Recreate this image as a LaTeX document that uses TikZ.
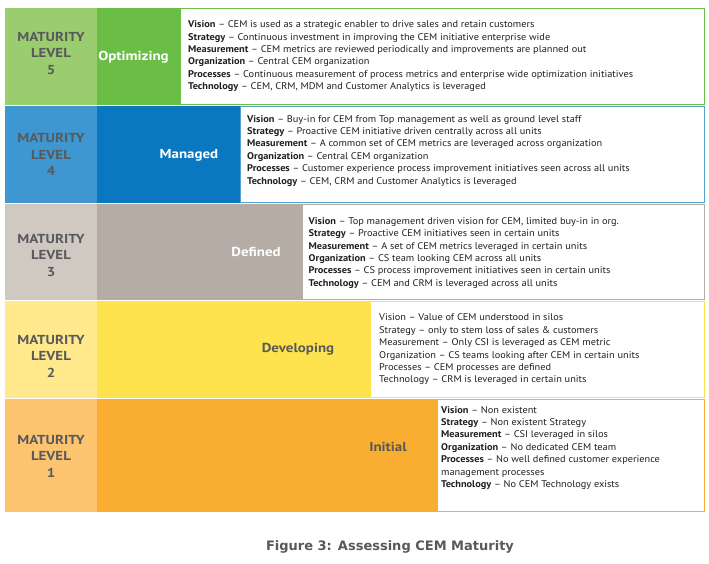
\documentclass[tikz,border=0pt]{standalone}
\usepackage{fontspec}
\setmainfont{PT Sans}[FakeStretch=1.15]
\newfontfamily\bodyfont{PT Sans}[FakeStretch=1.065,Ligatures=TeX]
\newfontfamily\capfont{DejaVu Sans}
\definecolor{gA}{HTML}{9ACD6E}\definecolor{gB}{HTML}{6BBE45}
\definecolor{bA}{HTML}{3E97D1}\definecolor{bB}{HTML}{0A78C1}
\definecolor{tA}{HTML}{D0C9C2}\definecolor{tB}{HTML}{B5ADA5}
\definecolor{yA}{HTML}{FFE98C}\definecolor{yB}{HTML}{FFE34E}
\definecolor{oA}{HTML}{FCC46E}\definecolor{oB}{HTML}{F9AD31}
\definecolor{lbl}{HTML}{58595B}
\definecolor{ink}{HTML}{231F20}
\begin{document}
\begin{tikzpicture}[x=1pt,y=-1pt,
  body/.style={anchor=north west,inner sep=0pt,align=left,text=ink,font=\bodyfont\fontsize{9.7}{12.4}\selectfont},
  lvl/.style={inner sep=0pt,align=center,text=lbl,font=\bfseries\fontsize{13}{16.5}\selectfont},
  stagew/.style={inner sep=0pt,text=white,font=\bfseries\fontsize{13}{16.5}\selectfont},
  stageg/.style={inner sep=0pt,text=lbl,font=\bfseries\fontsize{13}{16.5}\selectfont},
  capt/.style={inner sep=0pt,text=lbl,font=\capfont\bfseries\fontsize{13}{15}\selectfont},
  boxline/.style={line width=1pt}]
\useasboundingbox[fill=white] (0,0) rectangle (709,564);
% Level 5
\draw[boxline,gB,fill=white] (180,8.5) rectangle (704.5,104.5);
\fill[gA] (5,8) rectangle (97,105);
\fill[gB] (97,8) rectangle (180,105);
% Level 4
\draw[boxline,bB!70,fill=white] (240,106.5) rectangle (704.5,202.5);
\fill[bA] (5,106) rectangle (97,203);
\fill[bB] (97,106) rectangle (240,203);
% Level 3
\draw[boxline,tB,fill=white] (302,204.5) rectangle (704.5,299.5);
\fill[tA] (5,204) rectangle (97,300);
\fill[tB] (97,204) rectangle (302,300);
% Level 2
\draw[boxline,yB,fill=white] (370,301.5) rectangle (704.5,397.5);
\fill[yA] (5,301) rectangle (97,398);
\fill[yB] (97,301) rectangle (370,398);
% Level 1
\draw[boxline,oB,fill=white] (437,399.5) rectangle (704.5,511.5);
\fill[oA] (5,399) rectangle (97,512);
\fill[oB] (97,399) rectangle (437,512);

\node[lvl] (m5) at (51,53) {MATURITY\\LEVEL\\5};
\node[lvl] (m4) at (51,154.5) {MATURITY\\LEVEL\\4};
\node[lvl] (m3) at (51,255) {MATURITY\\LEVEL\\3};
\node[lvl] (m2) at (51,356) {MATURITY\\LEVEL\\2};
\node[lvl] (m1) at (51,456) {MATURITY\\LEVEL\\1};

\node[stagew] (s5) at (133.5,57) {Optimizing};
\node[stagew] (s4) at (189,155) {Managed};
\node[stagew] (s3) at (256,252) {Defined};
\node[stageg] (s2) at (298,349) {Developing};
\node[stageg] (s1) at (388,447) {Initial};

\node[body] (t5) at (188,20.5) {\rule{0pt}{7pt}\textbf{Vision} -- CEM is used as a strategic enabler to drive sales and retain customers\\
\textbf{Strategy} -- Continuous investment in improving the CEM initiative enterprise wide\\
\textbf{Measurement} -- CEM metrics are reviewed periodically and improvements are planned out\\
\textbf{Organization} -- Central CEM organization\\
\textbf{Processes} -- Continuous measurement of process metrics and enterprise wide optimization initiatives\\
\textbf{Technology} -- CEM, CRM, MDM and Customer Analytics is leveraged};

\node[body] (t4) at (247,115) {\rule{0pt}{7pt}\textbf{Vision} -- Buy-in for CEM from Top management as well as ground level staff\\
\textbf{Strategy} -- Proactive CEM initiative driven centrally across all units\\
\textbf{Measurement} -- A common set of CEM metrics are leveraged across organization\\
\textbf{Organization} -- Central CEM organization\\
\textbf{Processes} -- Customer experience process improvement initiatives seen across all units\\
\textbf{Technology} -- CEM, CRM and Customer Analytics is leveraged};

\node[body] (t3) at (308.5,217) {\rule{0pt}{7pt}\textbf{Vision} -- Top management driven vision for CEM, limited buy-in in org.\\
\textbf{Strategy} -- Proactive CEM initiatives seen in certain units\\
\textbf{Measurement} -- A set of CEM metrics leveraged in certain units\\
\textbf{Organization} -- CS team looking CEM across all units\\
\textbf{Processes} -- CS process improvement initiatives seen in certain units\\
\textbf{Technology} -- CEM and CRM is leveraged across all units};

\node[body] (t2) at (379,313.7) {\rule{0pt}{7pt}Vision -- Value of CEM understood in silos\\
Strategy -- only to stem loss of sales \& customers\\
Measurement -- Only CSI is leveraged as CEM metric\\
Organization -- CS teams looking after CEM in certain units\\
Processes -- CEM processes are defined\\
Technology -- CRM is leveraged in certain units};

\node[body] (t1) at (441,405.8) {\rule{0pt}{7pt}\textbf{Vision} -- Non existent\\
\textbf{Strategy} -- Non existent Strategy\\
\textbf{Measurement} -- CSI leveraged in silos\\
\textbf{Organization} -- No dedicated CEM team\\
\textbf{Processes} -- No well defined customer experience\\
management processes\\
\textbf{Technology} -- No CEM Technology exists};

\node[capt] (cap) at (390,547) {Figure 3: Assessing CEM Maturity};
\end{tikzpicture}
\end{document}
